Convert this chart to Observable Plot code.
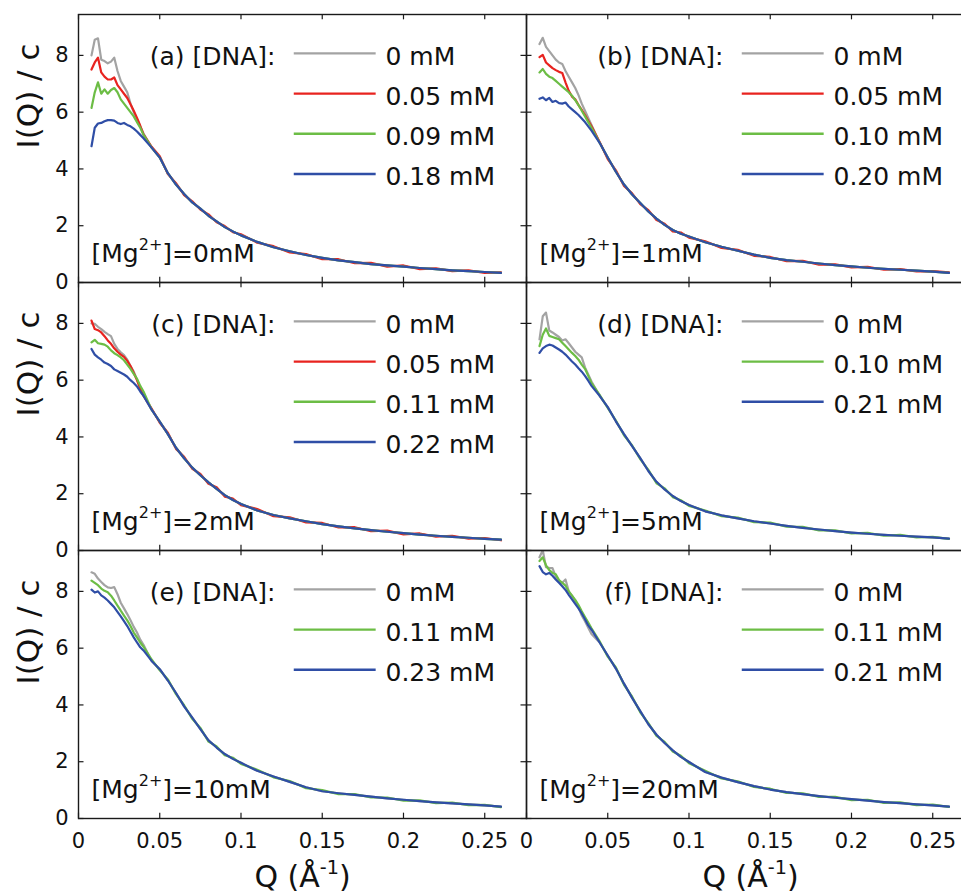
<!DOCTYPE html>
<html><head><meta charset="utf-8">
<script src="https://cdn.jsdelivr.net/npm/d3@7"></script>
<script src="https://cdn.jsdelivr.net/npm/@observablehq/plot@0.6"></script>
<style>
html,body{margin:0;padding:0;background:#fff;overflow:hidden;}
#chart{width:961px;height:893px;overflow:hidden;}
#chart svg{display:block;max-width:none !important;}
</style>
</head><body><div id="chart"></div>
<script>
// ---- axes / ticks ----
const xTicks = [0, 0.05, 0.1, 0.15, 0.2, 0.25];
const yTicks = [0, 2, 4, 6, 8];

// ---- series levels & colours ----
const levels = ["zero", "low", "mid", "high"];
const levelColors = ["#a3a3a3", "#e8231f", "#6cbd45", "#2f4ea6"];

// ---- panels ----
const panelIds = ["a", "b", "c", "d", "e", "f"];
const panelCols = [0, 1, 0, 1, 0, 1];
const panelRows = [0, 0, 1, 1, 2, 2];
const mgConc = ["0mM", "1mM", "2mM", "5mM", "10mM", "20mM"];

// ---- legend labels per panel ----
const dnaA = ["0 mM", "0.05 mM", "0.09 mM", "0.18 mM"];
const dnaB = ["0 mM", "0.05 mM", "0.10 mM", "0.20 mM"];
const dnaC = ["0 mM", "0.05 mM", "0.11 mM", "0.22 mM"];
const dnaD = ["0 mM", "0.10 mM", "0.21 mM"];
const dnaE = ["0 mM", "0.11 mM", "0.23 mM"];
const dnaF = ["0 mM", "0.11 mM", "0.21 mM"];

// ---- Q grids (Å^-1) ----
const Q_HEAD = [0.008,0.010,0.012,0.014,0.016,0.018,0.020,0.022,0.024,0.026,0.028,0.030,0.032,0.034,0.036,0.038,0.040];
const Q_BODY = [0.045,0.050,0.055,0.060,0.065,0.070,0.075,0.080,0.085,0.090,0.095,0.100,
                0.11,0.12,0.13,0.14,0.15,0.16,0.17,0.18,0.19,0.20,0.21,0.22,0.23,0.24,0.25,0.26];

// ---- I(Q)/c values, low-Q part ----
const headA0 = [8.0,8.55,8.6,7.85,7.8,7.72,7.78,7.92,7.45,7.1,6.9,6.7,6.3,6.0,5.75,5.5,5.25];
const headA1 = [7.5,7.75,7.92,7.4,7.25,7.15,7.15,7.22,6.95,6.8,6.65,6.5,6.28,6.05,5.8,5.52,5.22];
const headA2 = [6.15,6.7,7.05,6.65,6.8,6.65,6.78,6.85,6.7,6.45,6.3,6.15,6.0,5.85,5.65,5.45,5.2];
const headA3 = [4.8,5.45,5.6,5.62,5.68,5.72,5.72,5.7,5.62,5.58,5.62,5.55,5.5,5.42,5.32,5.2,5.08];

const headB0 = [8.4,8.62,8.3,8.15,8.0,7.85,7.75,7.7,7.45,7.25,7.05,6.85,6.6,6.3,6.05,5.8,5.55];
const headB1 = [7.94,8.02,7.75,7.65,7.55,7.48,7.42,7.38,7.05,6.75,6.55,6.45,6.25,6.08,5.9,5.7,5.5];
const headB2 = [7.4,7.52,7.35,7.25,7.2,7.1,7.0,6.9,6.8,6.7,6.58,6.42,6.25,6.05,5.85,5.65,5.45];
const headB3 = [6.47,6.52,6.42,6.5,6.36,6.4,6.32,6.3,6.34,6.2,6.1,6.0,5.9,5.78,5.65,5.5,5.35];

const headC0 = [8.0,7.98,7.88,7.8,7.7,7.62,7.55,7.28,7.1,6.98,6.88,6.72,6.5,6.3,6.02,5.72,5.45];
const headC1 = [8.1,7.8,7.76,7.68,7.55,7.4,7.28,7.12,7.0,6.9,6.82,6.68,6.5,6.25,6.0,5.7,5.45];
const headC2 = [7.33,7.42,7.3,7.28,7.25,7.18,7.05,6.95,6.88,6.8,6.7,6.55,6.4,6.22,6.05,5.8,5.6];
const headC3 = [7.1,6.9,6.8,6.72,6.62,6.57,6.5,6.38,6.32,6.26,6.2,6.12,6.0,5.9,5.78,5.6,5.45];

const headD0 = [7.44,8.25,8.38,7.75,7.68,7.6,7.52,7.4,7.44,7.3,7.15,7.0,6.9,6.8,6.45,6.2,5.95];
const headD2 = [7.2,7.6,7.82,7.56,7.52,7.48,7.44,7.32,7.2,7.08,6.96,6.85,6.72,6.55,6.4,6.15,5.9];
const headD3 = [6.96,7.12,7.2,7.25,7.22,7.15,7.08,7.0,6.9,6.78,6.66,6.55,6.42,6.3,6.15,5.98,5.8];

const headE0 = [8.67,8.62,8.45,8.33,8.22,8.14,8.12,8.15,7.9,7.6,7.4,7.2,6.98,6.75,6.55,6.3,6.12];
const headE2 = [8.38,8.3,8.22,8.1,8.02,7.97,7.85,7.68,7.5,7.32,7.15,6.98,6.78,6.55,6.38,6.2,6.05];
const headE3 = [8.06,7.96,8.0,7.86,7.78,7.68,7.56,7.44,7.28,7.12,6.95,6.78,6.58,6.38,6.2,6.03,5.92];

const headF0 = [9.2,9.45,8.85,8.83,8.82,8.52,8.35,8.3,8.42,8.0,7.85,7.65,7.45,7.15,6.95,6.72,6.5];
const headF2 = [9.07,9.2,8.92,8.75,8.65,8.6,8.4,8.3,8.2,8.0,7.85,7.7,7.52,7.3,7.1,6.9,6.7];
const headF3 = [8.89,8.68,8.6,8.65,8.55,8.42,8.3,8.18,8.05,7.88,7.72,7.56,7.4,7.22,7.02,6.8,6.65];

// ---- I(Q)/c values, overlapping high-Q part ----
const bodyA    = [4.75,4.4,3.85,3.45,3.12,2.82,2.6,2.35,2.15,1.95,1.8,1.66,1.43,1.24,1.1,0.97,0.87,0.78,0.72,0.65,0.6,0.56,0.51,0.47,0.43,0.4,0.37,0.34];
const redBodyA = [4.78,4.45,3.82,3.5,3.08,2.86,2.57,2.4,2.12,1.99,1.77,1.7,1.4,1.28,1.06,1.0,0.82,0.82,0.68,0.69,0.56,0.6,0.47,0.5,0.4,0.43,0.34,0.36];
const bodyB    = [4.92,4.4,3.9,3.45,3.1,2.8,2.5,2.25,2.03,1.85,1.72,1.62,1.42,1.26,1.12,0.98,0.87,0.79,0.73,0.67,0.61,0.57,0.52,0.48,0.45,0.42,0.38,0.34];
const redBodyB = [4.95,4.35,3.95,3.4,3.14,2.76,2.55,2.2,2.07,1.8,1.76,1.58,1.45,1.22,1.15,0.94,0.9,0.75,0.76,0.63,0.64,0.53,0.55,0.45,0.47,0.39,0.4,0.36];
const bodyC    = [4.96,4.54,4.1,3.62,3.25,2.92,2.65,2.4,2.17,1.95,1.78,1.64,1.41,1.25,1.13,1.03,0.93,0.85,0.78,0.72,0.66,0.61,0.56,0.52,0.48,0.45,0.41,0.38];
const redBodyC = [5.0,4.5,4.15,3.58,3.3,2.88,2.7,2.35,2.23,1.9,1.83,1.6,1.46,1.21,1.17,0.99,0.97,0.81,0.82,0.68,0.7,0.57,0.6,0.49,0.52,0.42,0.44,0.36];
const bodyD    = [5.45,5.05,4.55,4.1,3.68,3.25,2.8,2.42,2.15,1.92,1.74,1.6,1.38,1.24,1.13,1.03,0.95,0.87,0.8,0.74,0.68,0.63,0.59,0.55,0.52,0.49,0.46,0.42];
const greenBodyD = [5.48,5.02,4.58,4.06,3.7,3.22,2.84,2.37,2.19,1.88,1.77,1.57,1.41,1.21,1.16,1.0,0.98,0.84,0.83,0.71,0.71,0.6,0.62,0.52,0.55,0.46,0.48,0.41];
const bodyE    = [5.55,5.26,4.86,4.42,3.95,3.55,3.15,2.75,2.5,2.27,2.1,1.96,1.68,1.48,1.29,1.1,0.96,0.89,0.83,0.77,0.71,0.66,0.61,0.57,0.53,0.5,0.46,0.42];
const greenBodyE = [5.6,5.22,4.9,4.38,3.99,3.51,3.19,2.71,2.54,2.23,2.14,1.92,1.72,1.45,1.32,1.07,1.0,0.86,0.86,0.74,0.74,0.63,0.64,0.54,0.56,0.47,0.48,0.4];
const bodyF    = [6.2,5.74,5.28,4.75,4.25,3.78,3.32,2.95,2.66,2.4,2.17,1.99,1.64,1.44,1.28,1.14,1.02,0.93,0.86,0.79,0.73,0.68,0.63,0.58,0.54,0.5,0.46,0.42];
const greenBodyF = [6.24,5.7,5.32,4.71,4.29,3.74,3.36,2.91,2.7,2.36,2.21,1.95,1.68,1.41,1.31,1.11,1.05,0.9,0.89,0.76,0.76,0.65,0.66,0.55,0.57,0.47,0.49,0.41];

// ---- assemble ----
const panelSeries = {
  a: {labels: dnaA, series: [["zero", headA0, bodyA], ["low", headA1, redBodyA], ["mid", headA2, bodyA], ["high", headA3, bodyA]]},
  b: {labels: dnaB, series: [["zero", headB0, bodyB], ["low", headB1, redBodyB], ["mid", headB2, bodyB], ["high", headB3, bodyB]]},
  c: {labels: dnaC, series: [["zero", headC0, bodyC], ["low", headC1, redBodyC], ["mid", headC2, bodyC], ["high", headC3, bodyC]]},
  d: {labels: dnaD, series: [["zero", headD0, bodyD], ["mid", headD2, greenBodyD], ["high", headD3, bodyD]]},
  e: {labels: dnaE, series: [["zero", headE0, bodyE], ["mid", headE2, greenBodyE], ["high", headE3, bodyE]]},
  f: {labels: dnaF, series: [["zero", headF0, bodyF], ["mid", headF2, greenBodyF], ["high", headF3, bodyF]]}
};

const lineRows = [];
const legendRows = [];
const panelInfo = [];
panelIds.forEach((id, p) => {
  const col = panelCols[p], row = panelRows[p];
  panelInfo.push({id, col, row, mg: mgConc[p]});
  const ps = panelSeries[id];
  ps.series.forEach(([level, head, body], k) => {
    head.forEach((v, i) => lineRows.push({key: id + level, level, col, row, Q: Q_HEAD[i], v}));
    body.forEach((v, i) => lineRows.push({key: id + level, level, col, row, Q: Q_BODY[i], v}));
    legendRows.push({col, row, i: k, level, label: ps.labels[k]});
  });
});

// ---- layout ----
const W = 974, H = 893, ML = 77, MR = 0, MT = 13, MB = 74;
const FW = (W - ML - MR) / 2;
const FH = (H - MT - MB) / 3;
const X_DOMAIN = [0, 0.2757], Y_DOMAIN = [0, 9.44];
const TICK = 6;
const axisColor = "#1a1a1a";
// convert a pixel offset inside a panel into scale units (for legend swatch placement)
const xAt = px => X_DOMAIN[0] + (X_DOMAIN[1] - X_DOMAIN[0]) * px / FW;
const yAt = px => Y_DOMAIN[1] - (Y_DOMAIN[1] - Y_DOMAIN[0]) * px / FH;

const legendMarks = [];
for (let i = 0; i < 4; i++) {
  const rows = legendRows.filter(d => d.i === i);
  legendMarks.push(
    Plot.ruleY(rows, {fx: "col", fy: "row", stroke: "level", strokeWidth: 2.4,
      y: () => yAt(39 + 40.3 * i), x1: () => xAt(216), x2: () => xAt(298)}),
    Plot.text(rows, {fx: "col", fy: "row", text: "label", frameAnchor: "top-left",
      dx: 307, dy: 42 + 40.3 * i, textAnchor: "start", lineAnchor: "middle", fontSize: 25, fill: "#111"})
  );
}

const chart = Plot.plot({
  width: W, height: H,
  marginLeft: ML, marginRight: MR, marginTop: MT, marginBottom: MB,
  style: {fontFamily: "'DejaVu Sans', sans-serif", fontSize: "21px", color: "#111", background: "#fff", maxWidth: "none"},
  fx: {domain: [0, 1], padding: 0, axis: null},
  fy: {domain: [0, 1, 2], padding: 0, axis: null},
  x: {domain: X_DOMAIN, ticks: xTicks, tickSize: 0, tickPadding: 15, label: null,
      tickFormat: d => d === 0 ? "0" : String(d)},
  y: {domain: Y_DOMAIN, ticks: yTicks, tickSize: 0, tickPadding: 10, label: null},
  color: {domain: levels, range: levelColors},
  marks: [
    Plot.line(lineRows, {x: "Q", y: "v", z: "key", stroke: "level", fx: "col", fy: "row",
      strokeWidth: 2.2, clip: true, strokeLinejoin: "round"}),
    // inward ticks on all four sides
    Plot.tickX(xTicks, {x: d => d, insetTop: FH - TICK, stroke: axisColor, strokeWidth: 1.2}),
    Plot.tickX(xTicks, {x: d => d, insetBottom: FH - TICK, stroke: axisColor, strokeWidth: 1.2}),
    Plot.tickY(yTicks, {y: d => d, insetRight: FW - TICK, stroke: axisColor, strokeWidth: 1.2}),
    Plot.tickY(yTicks, {y: d => d, insetLeft: FW - TICK, stroke: axisColor, strokeWidth: 1.2}),
    Plot.frame({stroke: axisColor, strokeWidth: 1.4}),
    // panel titles
    Plot.text(panelInfo, {fx: "col", fy: "row", text: d => `(${d.id}) [DNA]:`, frameAnchor: "top-left",
      dx: 197, dy: 42, textAnchor: "end", lineAnchor: "middle", fontSize: 25, fill: "#111"}),
    // Mg labels
    Plot.text(panelInfo, {fx: "col", fy: "row", text: d => `[Mg^{2+}]=${d.mg}`, frameAnchor: "bottom-left",
      dx: 13, dy: -29, textAnchor: "start", lineAnchor: "middle", fontSize: 25, fill: "#111"}),
    // legend
    ...legendMarks,
    // axis titles
    Plot.text(panelInfo.filter(d => d.col === 0), {fx: "col", fy: "row", text: () => "I(Q) / c",
      frameAnchor: "left", dx: -49, rotate: -90, fontSize: 31, fill: "#111"}),
    Plot.text(panelInfo.filter(d => d.row === 2), {fx: "col", fy: "row", text: () => "Q (Å^{-1})",
      frameAnchor: "bottom", dy: 59, lineAnchor: "middle", fontSize: 30, fill: "#111"})
  ]
});
chart.style.maxWidth = "none";

// superscripts
const NS = "http://www.w3.org/2000/svg";
chart.querySelectorAll("text").forEach(t => {
  const s = t.textContent;
  const m = s.match(/^(.*)\^\{(.*)\}(.*)$/);
  if (!m) return;
  t.textContent = "";
  const a = document.createElementNS(NS, "tspan"); a.textContent = m[1];
  const b = document.createElementNS(NS, "tspan"); b.textContent = m[2];
  b.setAttribute("font-size", "0.64em"); b.setAttribute("dy", "-0.7em");
  const c = document.createElementNS(NS, "tspan"); c.textContent = m[3];
  c.setAttribute("dy", (0.7 * 0.64).toFixed(3) + "em");
  t.append(a, b, c);
});

document.getElementById("chart").appendChild(chart);
</script>
</body></html>
